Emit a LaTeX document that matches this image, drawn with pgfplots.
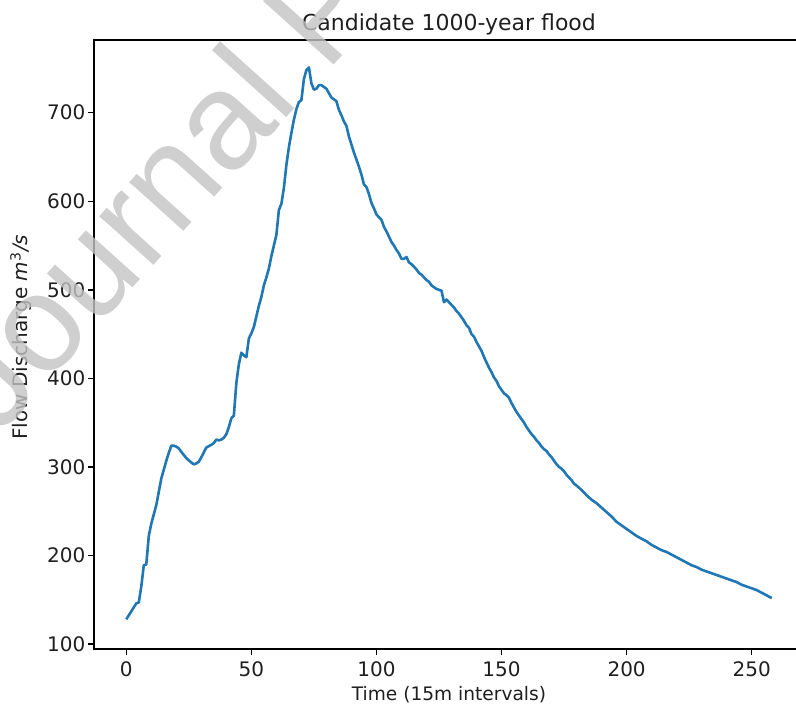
\documentclass[border=0pt]{standalone}
\usepackage{fontspec}
\setmainfont{DejaVu Sans}
\newfontfamily\wmfont{Liberation Sans}
\usepackage{pgfplots}
\pgfplotsset{compat=1.18}
\definecolor{mplblue}{HTML}{1F77B4}
\definecolor{wm}{RGB}{195,195,195}
\begin{document}
\begin{tikzpicture}[x=1pt,y=1pt]
\begin{axis}[
  at={(47pt,27pt)}, anchor=south west,
  scale only axis, width=355pt, height=304.5pt,
  xmin=-12.9, xmax=270.9, ymin=94.5, ymax=782,
  xtick={0,50,100,150,200,250}, ytick={100,200,300,400,500,600,700},
  scaled ticks=false,
  tick pos=left, tick align=outside,
  major tick length=3pt,
  tick style={line width=0.7pt, black},
  axis line style={line width=0.7pt},
  every axis/.append style={line width=0.7pt},
  /pgf/number format/assume math mode=true,
  ticklabel style={font=\fontsize{10}{12}\selectfont, text=black!88},
  yticklabel style={anchor=east, inner sep=0pt, xshift=-1pt},
  xticklabel style={anchor=north, inner sep=0pt, yshift=-3pt},
  title={Candidate 1000-year flood},
  title style={at={(axis description cs:0.5,1.0164)}, anchor=base, yshift=-6pt, font=\fontsize{11}{13}\selectfont, text=black!88, inner sep=0pt},
  xlabel={Time (15m intervals)},
  xlabel style={at={(axis description cs:0.5,-0.0838)}, anchor=base, font=\fontsize{9.3}{11}\selectfont, text=black!88, inner sep=0pt},
  ylabel={Flow Discharge \textit{m}\textsuperscript{3}\textit{/s}},
  ylabel style={at={(axis description cs:-0.093,0.512)}, anchor=base, font=\fontsize{10}{12}\selectfont, text=black!88, inner sep=0pt},
]
\addplot[mplblue, line width=1.3pt, line join=round] coordinates {
(0,128)(2,137)(4,146)(5,147)(6,165)(7,189)(8,190)(9,222)(10,236)(12,257)(14,287)(16,307)(17,316)(18,324)(19,324)(20,323)(21,321)(22,317)(24,310)(26,305)(27,303)(28,304)(29,306)(30,311)(32,322)(34,325)(35,327)(36,331)(37,330)(38,331)(39,333)(40,337)(41,345)(42,355)(43,358)(44,395)(45,416)(46,429)(47,426)(48,424)(49,445)(50,451)(51,458)(52,470)(53,482)(54,492)(55,505)(56,514)(57,524)(58,538)(59,550)(60,562)(61,590)(62,597)(63,615)(64,641)(65,661)(66,677)(67,692)(68,704)(69,712)(70,714)(71,738)(72,748)(73,751)(74,733)(75,726)(76,727)(77,731)(78,731)(79,729)(80,727)(81,722)(82,717)(83,715)(84,713)(85,703)(86,697)(87,690)(88,685)(89,673)(90,664)(91,655)(92,647)(93,639)(94,630)(95,619)(96,616)(97,608)(98,598)(99,592)(100,585)(101,582)(102,579)(103,571)(104,566)(105,560)(106,554)(107,550)(108,545)(109,541)(110,535)(111,535)(112,537)(113,531)(114,529)(115,526)(116,523)(117,519)(118,517)(119,514)(120,511)(121,509)(122,505)(123,503)(124,501)(125,500)(126,499)(127,486)(128,489)(129,486)(130,483)(131,480)(132,476)(133,473)(134,469)(135,465)(136,460)(137,457)(138,450)(139,447)(140,441)(141,436)(142,431)(143,424)(144,418)(145,412)(146,407)(147,401)(148,397)(149,391)(150,387)(151,383)(152,381)(153,378)(154,372)(155,367)(156,362)(157,358)(158,354)(159,350)(160,345)(161,341)(162,337)(163,334)(164,330)(165,327)(166,323)(167,320)(168,318)(169,314)(170,311)(171,307)(172,303)(173,300)(174,298)(175,295)(176,291)(177,288)(178,285)(179,281)(180,279)(182,274)(184,268)(186,263)(188,259)(190,254)(192,249)(194,244)(196,238)(198,234)(200,230)(202,226)(204,222)(206,219)(208,216)(210,212)(212,209)(214,206)(216,204)(218,201)(220,198)(222,195)(224,192)(226,189)(228,187)(230,184)(232,182)(234,180)(236,178)(238,176)(240,174)(242,172)(244,170)(246,167)(248,165)(250,163)(252,161)(254,158)(256,155)(258,152)
};
\end{axis}
\node[overlay, anchor=base west, rotate=48, inner sep=0pt, text=wm, text opacity=0.8, font=\wmfont\fontsize{69}{80}\selectfont] at (-1pt,132.5pt) {Journal Pre-proof};
\pgfresetboundingbox
\useasboundingbox (0pt,0pt) rectangle (398pt,351.5pt);
\end{tikzpicture}
\end{document}
